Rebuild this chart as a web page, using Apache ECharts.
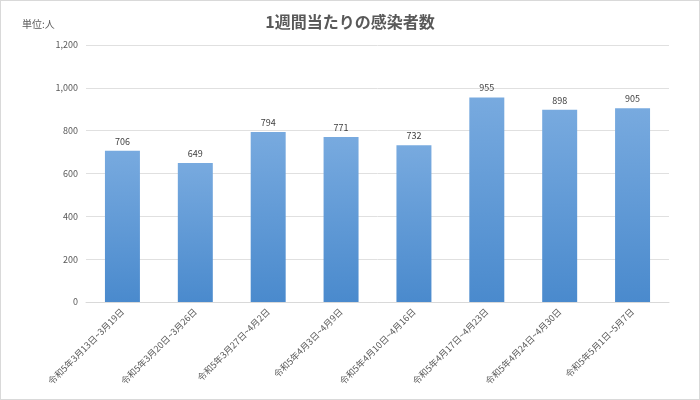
<!DOCTYPE html>
<html><head><meta charset="utf-8">
<script src="https://cdn.jsdelivr.net/npm/echarts@6/dist/echarts.min.js"></script>
<style>html,body{margin:0;padding:0;background:#fff}#c{width:698px;height:398px;border:1px solid #d9d9d9}</style>
</head><body><div id="c"></div>
<script>
const categories=["令和5年3月13日~3月19日","令和5年3月20日~3月26日","令和5年3月27日~4月2日","令和5年4月3日~4月9日","令和5年4月10日~4月16日","令和5年4月17日~4月23日","令和5年4月24日~4月30日","令和5年5月1日~5月7日"];
const values=[706,649,794,771,732,955,898,905];
const chart=echarts.init(document.getElementById('c'));
const font='"Noto Sans CJK JP", sans-serif';
chart.setOption({
  animation:false,
  title:[{text:'1週間当たりの感染者数',left:'center',top:8,textStyle:{fontFamily:font,fontSize:16,fontWeight:'bold',color:'#595959'}},
         {text:'単位:人',left:16,top:13,textStyle:{fontFamily:font,fontSize:10,fontWeight:'normal',color:'#595959'}}],
  grid:{left:85,right:30,top:44,bottom:97},
  xAxis:{type:'category',data:categories,axisTick:{show:false},axisLine:{lineStyle:{color:'#d9d9d9'}},
    axisLabel:{rotate:45,interval:0,fontFamily:font,fontSize:9,color:'#595959'}},
  yAxis:{type:'value',min:0,max:1200,interval:200,axisLine:{show:false},axisTick:{show:false},
    splitLine:{lineStyle:{color:'#e0e0e0'}},
    axisLabel:{fontFamily:font,fontSize:9,color:'#595959',formatter:v=>v.toLocaleString('en-US')}},
  series:[{type:'bar',data:values,barWidth:'48%',
    itemStyle:{color:new echarts.graphic.LinearGradient(0,0,0,1,[{offset:0,color:'#78aadf'},{offset:1,color:'#4a8acd'}])},
    label:{show:true,position:'top',fontFamily:font,fontSize:9,color:'#404040'}}]
});
</script></body></html>
